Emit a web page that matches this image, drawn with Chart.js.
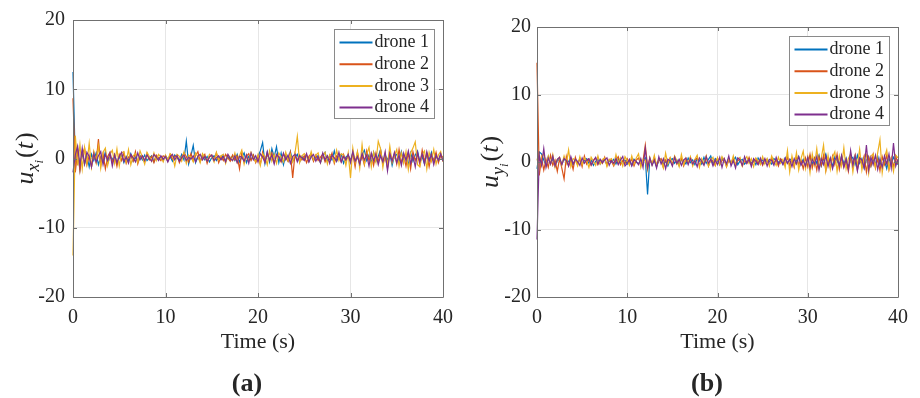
<!DOCTYPE html>
<html>
<head>
<meta charset="utf-8">
<script src="https://cdn.jsdelivr.net/npm/chart.js@4"></script>
<style>
  html, body { margin: 0; padding: 0; background: #fff; }
  .panel { position: absolute; top: 0; width: 460px; height: 398px; }
</style>
</head>
<body>
<div class="panel" style="left:0"><canvas id="chartX" width="460" height="398"></canvas></div>
<div class="panel" style="left:460px"><canvas id="chartY" width="460" height="398"></canvas></div>
<script>
// sample period of the logged control inputs (s)
const timeStep = 0.25;
const droneLabels = ["drone 1", "drone 2", "drone 3", "drone 4"];
const droneColors = ["#0072BD", "#D95319", "#EDB120", "#7E2F8E"];

// u_x control input per drone
const uxDrone1 = [12.5,-0.6,1.3,-1.6,0.9,-0.8,0.4,-1.2,0.6,-0.3, 0.8,-0.9,0.2,-0.5,1.0,-0.7,0.3,-0.2,0.6,-0.8,
  0.1,0.5,-0.6,0.3,-0.3,0.7,-0.4,0.2,-0.5,0.4, -0.2,0.5,-0.3,0.1,0.4,-0.5,0.3,0.0,0.2,-0.3,
  0.4,-0.1,0.3,-0.4,0.5,0.1,-0.3,0.6,-0.2,2.5, -0.8,0.4,1.9,-0.6,0.2,-0.4,0.5,-0.2,0.3,-0.5,
  0.1,0.4,-0.3,0.2,-0.1,0.5,-0.4,0.3,-0.2,0.4, -0.3,0.6,-0.5,0.2,0.8,-0.6,0.3,-0.2,0.5,-0.4,
  0.3,1.1,2.3,-0.7,0.9,-0.5,1.4,0.2,1.7,-0.6, 0.8,-0.9,0.5,-0.3,1.0,-0.4,0.2,0.6,-0.5,0.3,
  -0.2,0.5,-0.4,0.7,-0.3,0.2,0.4,-0.6,0.3,0.9, -0.5,0.4,-0.2,1.1,-0.4,0.3,0.6,-0.7,0.2,0.5,
  -0.3,0.8,-0.5,0.4,-0.9,0.6,1.2,-0.3,0.5,-0.6, 0.9,-0.4,0.3,1.3,-0.8,0.5,-0.2,0.7,-1.0,0.4,
  0.6,-0.5,1.0,-0.3,0.2,-0.9,0.8,-0.4,0.5,1.1, -0.6,0.3,-0.8,0.7,-0.2,0.9,-0.5,0.4,-0.3,0.6, -0.2];
const uxDrone2 = [8.7,-2.0,1.2,-1.8,0.6,1.5,-0.9,0.4,-1.2,0.9, -0.5,2.8,-1.0,0.7,-1.5,0.3,0.9,-0.6,0.5,-1.1,
  0.6,-0.3,0.8,-0.7,0.2,0.5,-0.4,1.0,-0.8,0.3, 0.4,-0.5,0.7,-0.2,0.3,-0.6,0.5,0.1,-0.3,0.4,
  0.2,-0.4,0.6,-0.1,0.3,0.5,-0.6,0.2,0.8,0.3, -0.5,0.7,-0.3,0.4,1.0,-0.4,0.2,0.6,-0.7,0.3,
  0.5,-0.2,0.8,-0.6,0.3,-0.3,0.6,0.1,-0.4,0.5, -0.2,0.4,-1.5,0.9,-0.5,0.3,0.7,-0.3,0.5,-0.6,
  0.2,-0.8,0.9,-0.4,0.6,-0.2,0.8,-0.6,0.4,0.3, -0.5,0.6,0.2,-0.4,0.9,-2.8,0.7,-0.3,0.5,-0.2,
  0.4,-0.6,0.3,0.7,-0.4,0.5,-0.3,0.2,0.6,-0.5, 0.3,-0.2,0.8,-0.7,0.4,0.1,-0.5,0.6,-0.3,0.5,
  -0.4,0.7,-1.2,0.9,-0.6,0.4,-0.9,1.1,-0.3,0.6, -1.0,0.8,-0.5,1.2,-0.7,0.3,-1.4,0.9,-0.4,0.7,
  -0.8,1.3,-0.6,0.5,-1.1,0.8,-1.5,1.0,-0.3,0.6, -0.9,1.2,-0.4,0.7,-1.2,0.5,-0.3,0.9,-0.6,0.4, 0.2];
const uxDrone3 = [-14.0,3.3,-1.0,2.0,-1.5,1.6,-0.8,2.2,-1.2,1.0, -0.6,1.8,-1.4,0.9,1.5,-1.0,0.6,1.2,-0.7,1.4,
  -1.1,0.8,1.0,-0.5,1.3,-0.9,0.4,0.7,-0.6,1.1, 0.2,-0.8,0.9,0.3,-0.4,0.8,-0.3,0.6,0.2,-0.5,
  0.5,-0.2,0.7,0.4,-1.1,0.6,0.3,-0.4,0.9,-0.7, 0.5,0.2,-0.5,0.8,0.3,-0.6,0.7,0.1,-0.4,0.6,
  0.3,-0.5,0.9,-0.2,0.4,0.6,-0.7,0.5,0.2,-0.3, 0.8,-0.6,0.4,1.2,-0.8,0.5,-0.4,0.9,0.1,-0.5,
  0.6,-1.0,0.7,0.3,-0.9,1.1,-0.4,0.6,-0.7,0.8, 0.2,-0.5,0.9,-0.3,0.6,-0.5,0.8,3.2,-0.6,0.4,
  0.7,0.3,-0.4,1.0,-0.2,0.5,0.8,-0.6,0.4,0.9, -0.8,0.6,0.3,-0.5,1.2,-0.3,0.7,0.5,-1.0,0.8,
  -2.8,1.5,-0.6,1.0,-1.4,2.0,-0.8,0.6,1.6,-1.2, 0.9,-0.5,2.5,1.4,-1.3,0.7,-0.9,1.8,-0.6,0.4,
  1.3,-1.1,0.8,-0.7,1.0,-1.6,0.8,1.5,2.4,-0.9, -1.2,0.6,1.1,-1.5,0.9,-0.4,1.3,-0.8,0.5,1.0, -0.5];
const uxDrone4 = [-2.0,0.5,1.8,-1.0,1.5,-0.8,0.9,0.3,-1.2,0.7, -0.5,0.4,1.0,-0.9,0.6,-0.3,0.8,-1.1,0.5,-0.6,
  0.3,0.9,-0.4,0.2,-0.7,0.6,0.1,-0.5,0.8,-0.2, 0.4,-0.3,0.5,0.0,-0.4,0.6,0.2,-0.3,0.4,-0.1,
  0.3,-0.5,0.2,0.6,-0.2,0.4,-0.4,0.1,0.5,-0.3, 0.2,-0.1,0.4,-0.5,0.3,0.6,-0.2,0.3,-0.4,0.2,
  0.5,-0.3,0.1,0.4,-0.2,0.3,-0.5,0.6,0.0,-0.3, 0.4,-0.6,0.3,0.2,-0.4,0.5,-0.7,0.8,-0.2,0.4,
  -0.5,0.7,0.2,-0.6,1.0,-0.3,0.5,-0.8,0.6,0.2, -0.4,0.8,-0.2,0.5,-0.7,0.3,0.6,-0.5,0.4,0.1,
  -0.3,0.7,-0.5,0.2,0.6,-0.4,0.3,-0.6,0.8,-0.2, 0.4,-0.7,0.5,0.1,-0.4,0.9,-0.5,0.3,-0.2,0.6,
  -0.6,1.0,-0.4,0.3,-0.8,0.7,-0.2,0.5,-1.1,0.8, -0.3,0.6,-0.9,0.4,-0.5,1.0,-1.8,0.7,-0.4,0.9,
  -0.6,0.5,-1.0,0.8,-0.3,1.1,-0.7,0.4,-1.2,0.9, -0.5,0.7,-0.8,1.0,-0.4,0.6,-0.9,0.5,-0.3,0.7, -0.4];

// u_y control input per drone
const uyDrone1 = [-1.0,1.5,1.2,0.3,-0.5,0.8,-0.3,0.5,-0.6,0.2, 0.4,-0.3,0.6,-0.2,0.1,0.5,-0.4,0.3,-0.1,0.4,
  -0.3,0.2,0.5,-0.2,0.3,-0.5,0.1,0.4,-0.3,0.2, 0.3,-0.4,0.2,0.0,0.4,-0.3,0.5,-0.2,0.1,0.3,
  -0.3,0.2,-0.5,0.4,0.0,-0.3,0.3,0.1,0.6,-4.8, 0.5,-0.4,0.3,-0.7,0.2,0.4,-0.3,0.1,-0.6,0.3,
  0.5,-0.2,0.3,-0.5,0.4,0.2,-0.3,0.6,-0.1,0.3, -0.4,0.5,0.2,-0.3,0.7,-0.2,0.4,0.9,-0.3,0.5,
  0.2,-0.4,0.6,0.1,-0.3,0.5,-0.2,0.3,0.7,-0.4, 0.2,0.4,-0.3,0.1,0.5,-0.2,0.3,-0.4,0.6,0.0,
  0.3,-0.2,0.4,0.1,-0.3,0.5,0.2,-0.1,0.4,-0.3, 0.6,-0.2,0.3,0.5,-0.4,0.2,0.8,-0.3,0.4,-0.5,
  0.3,0.9,-0.4,0.6,-0.2,1.0,-0.6,0.4,1.2,-0.3, 0.5,-0.7,0.8,0.2,-0.5,0.9,-0.3,0.6,-0.8,0.4,
  0.7,-0.4,1.0,-0.2,0.5,-0.9,0.3,0.8,-0.6,0.4, -0.3,0.9,-0.5,0.6,0.2,-1.0,0.5,-0.3,0.7,0.1, -0.4];
const uyDrone2 = [14.7,-2.0,0.6,-1.2,0.4,-0.8,1.0,-0.5,0.3,-1.4, 0.5,-0.9,-2.5,0.8,-0.6,0.3,-1.1,0.7,-0.4,0.5,
  -0.7,0.9,-0.3,0.4,-0.5,0.2,0.6,-0.4,0.3,-0.2, 0.7,-0.5,0.4,0.1,-0.6,0.3,0.8,-0.4,0.2,-0.3,
  0.5,-0.2,0.4,-0.6,0.3,0.6,-0.4,0.2,2.5,-0.7, 0.4,-0.3,0.7,-0.5,0.2,0.5,-0.8,0.3,-0.2,0.6,
  -0.4,0.8,-0.3,0.2,0.5,-0.6,0.4,-0.2,0.7,-0.4, 0.3,0.6,-0.5,0.2,-0.3,0.8,-0.6,0.4,0.1,-0.5,
  0.6,-0.3,0.2,0.5,-0.7,0.3,-0.2,0.6,-0.4,0.2, 0.4,-0.6,0.3,-0.2,0.7,-0.4,0.1,0.5,-0.3,0.3,
  -0.5,0.4,0.2,-0.4,0.6,-0.2,0.3,-0.6,0.5,0.1, -0.3,0.7,-0.5,0.4,-0.8,0.9,-0.4,0.3,-1.0,0.6,
  -0.7,1.1,-0.9,0.5,-1.2,0.8,-0.5,1.0,-1.3,0.4, -0.8,0.9,-0.4,1.2,-1.1,0.6,-0.7,0.3,-1.4,0.8,
  -0.5,1.0,-1.2,0.6,-0.3,0.9,-1.5,0.7,-0.6,1.1, -0.9,0.5,-1.3,0.8,-0.4,1.0,-1.1,0.6,-0.7,0.9, -0.3];
const uyDrone3 = [0.5,-1.0,0.8,1.2,-0.6,0.9,-0.3,1.1,-0.8,0.4, 0.7,-0.5,0.9,-0.2,1.8,-0.7,0.5,0.3,-0.6,0.8,
  -0.4,0.6,0.2,-0.8,0.7,0.1,-0.5,0.9,-0.3,0.4, 0.6,-0.7,0.3,0.5,-0.4,1.1,-0.2,0.6,-0.6,0.8,
  0.2,-0.5,0.9,-0.3,0.6,1.2,-0.8,0.4,0.3,-1.2, 0.7,-0.4,1.0,-0.6,0.5,0.2,-0.9,1.3,-0.3,0.6,
  -0.5,0.9,0.2,-0.7,1.1,-0.4,0.6,-0.2,0.8,-0.6, 0.4,1.0,-0.8,0.5,-0.3,0.9,-0.6,0.3,0.7,-0.5,
  0.6,-0.4,0.8,0.2,-0.7,0.5,-0.3,0.9,-0.5,0.4, 0.7,-0.6,0.3,0.8,-0.2,0.5,-0.7,0.6,0.2,-0.4,
  0.8,-0.3,0.5,-0.6,0.9,0.1,-0.5,0.7,-0.2,0.4, -0.8,1.7,-1.5,0.9,-0.6,1.4,-1.2,0.5,1.6,-1.0,
  0.8,-1.6,1.2,-0.5,2.0,-0.9,0.6,2.5,-1.3,1.0, -1.1,0.7,1.5,-1.4,0.9,-0.6,2.1,-1.0,0.5,1.2,
  -1.5,0.8,-0.4,1.9,-1.2,0.6,1.1,-1.7,0.9,1.2, -0.8,1.4,3.3,-1.6,0.7,1.8,-1.1,0.5,-1.4,1.0, 0.6];
const uyDrone4 = [-11.5,1.0,-0.5,2.0,-0.8,0.6,-0.3,0.9,-0.6,0.4, 0.7,-0.4,0.5,0.2,-0.6,0.8,-0.3,0.4,0.1,-0.5,
  0.6,-0.2,0.3,0.5,-0.4,0.2,0.7,-0.3,0.4,-0.1, 0.3,0.6,-0.5,0.2,-0.2,0.5,-0.4,0.3,0.8,-0.6,
  -0.2,0.4,-0.6,0.3,0.1,-0.4,0.5,-0.8,2.0,-0.9, 0.6,-0.5,0.3,-0.9,0.8,-0.3,0.5,-1.0,0.4,0.2,
  -0.6,0.7,-0.2,0.4,-0.5,0.3,0.6,-0.4,0.5,-0.3, 0.2,-0.7,0.6,0.1,-0.5,0.8,-0.2,0.4,-0.6,0.3,
  -0.4,0.7,-0.8,0.5,-0.3,0.9,-0.6,0.2,-0.9,0.6, 0.3,-0.5,0.8,-0.2,0.4,-0.7,0.5,0.1,-0.4,0.6,
  -0.3,0.5,-0.6,0.4,0.2,-0.5,0.7,-0.3,0.3,-0.4, 0.6,-0.2,0.4,-0.7,0.5,-0.3,0.8,-0.5,0.2,-0.6,
  0.7,-0.9,0.4,-0.3,0.8,-1.2,0.5,-0.4,0.9,-0.7, 0.6,-1.0,0.3,0.8,-0.6,1.0,-0.8,0.4,-1.1,1.7,
  -0.5,0.9,-1.3,0.6,0.3,-0.9,2.5,-1.2,0.7,-0.4, 1.0,-1.1,0.5,-0.8,0.9,-0.3,1.2,-0.9,2.8,-0.6, 0.4];

const SERIF = "'Liberation Serif', 'Times New Roman', serif";
const TEXT = "#262626";
const AXIS = "#707070";

// draws the boxed axes with inward ticks, the axis labels, caption and legend
const figureDecor = {
  id: "figureDecor",
  afterDatasetsDraw(chart) {
    const { ctx, chartArea: a, scales } = chart;
    ctx.save();
    ctx.strokeStyle = AXIS;
    ctx.lineWidth = 1;
    ctx.beginPath();
    ctx.rect(Math.round(a.left) + 0.5, Math.round(a.top) + 0.5,
      Math.round(a.right) - Math.round(a.left), Math.round(a.bottom) - Math.round(a.top));
    const tl = 4;
    scales.x.ticks.forEach(t => {
      const px = Math.round(scales.x.getPixelForValue(t.value)) + 0.5;
      ctx.moveTo(px, a.bottom); ctx.lineTo(px, a.bottom - tl);
      ctx.moveTo(px, a.top); ctx.lineTo(px, a.top + tl);
    });
    scales.y.ticks.forEach(t => {
      const py = Math.round(scales.y.getPixelForValue(t.value)) + 0.5;
      ctx.moveTo(a.left, py); ctx.lineTo(a.left + tl, py);
      ctx.moveTo(a.right, py); ctx.lineTo(a.right - tl, py);
    });
    ctx.stroke();
    ctx.restore();
  },
  afterDraw(chart, args, opts) {
    const { ctx, chartArea: a } = chart;
    ctx.save();
    ctx.fillStyle = TEXT;

    // x axis title
    ctx.font = "22px " + SERIF;
    ctx.textAlign = "center";
    ctx.textBaseline = "middle";
    ctx.fillText("Time (s)", (a.left + a.right) / 2, 342);

    // panel caption
    ctx.font = "bold 26px " + SERIF;
    ctx.fillText(opts.caption, 247, 384);

    // y axis title u_{x_i}(t), written bottom to top
    const parts = [
      { s: "u", f: "italic 26px " + SERIF, dy: 0 },
      { s: opts.axisLetter, f: "italic 18px " + SERIF, dy: 6 },
      { s: "i", f: "italic 13px " + SERIF, dy: 10 },
      { s: "(", f: "26px " + SERIF, dy: 0, gap: 2 },
      { s: "t", f: "italic 26px " + SERIF, dy: 0 },
      { s: ")", f: "26px " + SERIF, dy: 0, gap: 1 }
    ];
    let total = 0;
    parts.forEach(p => { ctx.font = p.f; p.w = ctx.measureText(p.s).width; total += p.w + (p.gap || 0); });
    ctx.translate(opts.yTitleX, (a.top + a.bottom) / 2);
    ctx.rotate(-Math.PI / 2);
    ctx.textAlign = "left";
    ctx.textBaseline = "alphabetic";
    let cx = -total / 2;
    parts.forEach(p => {
      cx += p.gap || 0;
      ctx.font = p.f;
      ctx.fillText(p.s, cx, 8 + p.dy);
      cx += p.w;
    });
    ctx.setTransform(1, 0, 0, 1, 0, 0);

    // legend box in the upper right corner of the axes
    const boxW = 100, boxH = 89, rowH = 21.7;
    const bx = Math.round(a.right - 9 - boxW) + 0.5, by = Math.round(a.top + 9) + 0.5;
    ctx.fillStyle = "#fff";
    ctx.fillRect(bx, by, boxW, boxH);
    ctx.strokeStyle = "#8a8a8a";
    ctx.lineWidth = 1;
    ctx.strokeRect(bx, by, boxW, boxH);
    ctx.font = "18px " + SERIF;
    ctx.textBaseline = "middle";
    chart.data.datasets.forEach((ds, i) => {
      const ry = by + 13 + i * rowH;
      ctx.strokeStyle = ds.borderColor;
      ctx.lineWidth = 2;
      ctx.beginPath();
      ctx.moveTo(bx + 5, ry); ctx.lineTo(bx + 38, ry);
      ctx.stroke();
      ctx.fillStyle = TEXT;
      ctx.fillText(ds.label, bx + 40, ry);
    });
    ctx.restore();
  }
};

function buildChart(canvasId, series, decor, pad) {
  const datasets = series.map((values, i) => ({
    label: droneLabels[i],
    data: values.map((v, k) => ({ x: k * timeStep, y: v })),
    borderColor: droneColors[i],
    borderWidth: 1.2,
    pointRadius: 0,
    tension: 0,
    // let the first-sample spike at t = 0 show its full stroke width
    clip: { left: 2, top: 0, right: 2, bottom: 0 },
    order: series.length - i
  }));
  return new Chart(document.getElementById(canvasId), {
    type: "line",
    data: { datasets },
    plugins: [figureDecor],
    options: {
      responsive: false,
      animation: false,
      devicePixelRatio: 1,
      layout: { padding: { top: pad.top, right: pad.right, left: 0, bottom: 0 } },
      plugins: {
        legend: { display: false },
        tooltip: { enabled: false },
        figureDecor: decor
      },
      scales: {
        x: {
          type: "linear",
          min: 0, max: 40,
          ticks: { stepSize: 10, color: TEXT, padding: 6, maxRotation: 0, font: { family: SERIF, size: 20, lineHeight: 1.5 } },
          grid: { color: "#e6e6e6", drawTicks: false },
          border: { display: false },
          afterFit: s => { s.height = 398 - pad.bottomEdge; }
        },
        y: {
          min: -20, max: 20,
          ticks: { stepSize: 10, color: TEXT, padding: pad.tickPad, font: { family: SERIF, size: 20 } },
          grid: { color: "#e6e6e6", drawTicks: false },
          border: { display: false },
          afterFit: s => { s.width = pad.left; }
        }
      }
    }
  });
}

buildChart("chartX", [uxDrone1, uxDrone2, uxDrone3, uxDrone4],
  { caption: "(a)", axisLetter: "x", yTitleX: 25 },
  { top: 20, right: 17, left: 73, bottomEdge: 297, tickPad: 8 });
buildChart("chartY", [uyDrone1, uyDrone2, uyDrone3, uyDrone4],
  { caption: "(b)", axisLetter: "y", yTitleX: 30 },
  { top: 27, right: 22, left: 77, bottomEdge: 297, tickPad: 6 });
</script>
</body>
</html>
